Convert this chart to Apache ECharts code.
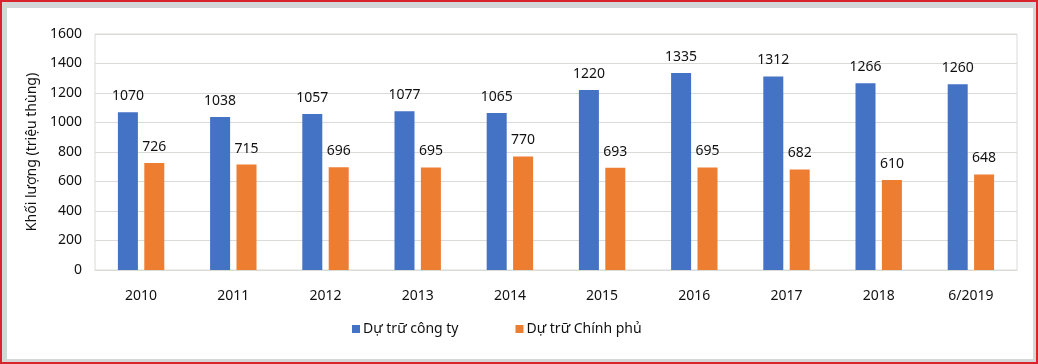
<!DOCTYPE html>
<html>
<head>
<meta charset="utf-8">
<script src="https://cdn.jsdelivr.net/npm/echarts@6/dist/echarts.min.js"></script>
<style>
html,body{margin:0;padding:0;background:#fff;}
#wrap{position:relative;width:1038px;height:364px;overflow:hidden;}
#chart{position:absolute;left:0;top:0;width:1038px;height:364px;}
#red{position:absolute;left:0;top:0;width:1038px;height:364px;box-sizing:border-box;border:2px solid #d9232d;pointer-events:none;}
#grey{position:absolute;left:2px;top:2px;width:1034px;height:360px;box-sizing:border-box;border-style:solid;border-color:#d4d7d7;border-width:6px 3px 3px 5px;pointer-events:none;}
</style>
</head>
<body>
<div id="wrap">
<div id="chart"></div>
<div id="grey"></div>
<div id="red"></div>
</div>
<script>
const categories = ['2010','2011','2012','2013','2014','2015','2016','2017','2018','6/2019'];
const companyReserve = [1070,1038,1057,1077,1065,1220,1335,1312,1266,1260];
const governmentReserve = [726,715,696,695,770,693,695,682,610,648];
const seriesNames = ['Dự trữ công ty','Dự trữ Chính phủ'];
const yAxisName = 'Khối lượng (triệu thùng)';

const FONT = '"Noto Sans", sans-serif';
const chart = echarts.init(document.getElementById('chart'), null, {renderer:'canvas'});
const labelStyle = {show:true, position:'top', distance:9, color:'#111', fontSize:14, fontFamily:FONT};
chart.setOption({
  animation:false,
  textStyle:{fontFamily:FONT},
  grid:{left:95, right:21, top:34, bottom:94, show:true, borderColor:'#d9dcd6', borderWidth:1},
  legend:{
    data:seriesNames, left:352, top:322, padding:0, icon:'rect', itemWidth:8, itemHeight:8, itemGap:57,
    textStyle:{fontSize:14, color:'#111', fontFamily:FONT, padding:[0,0,0,-2]}
  },
  xAxis:{
    type:'category', data:categories,
    axisLine:{show:true, lineStyle:{color:'#d9dcd6'}},
    axisTick:{show:false},
    axisLabel:{color:'#111', fontSize:14, margin:19, fontFamily:FONT}
  },
  yAxis:{
    type:'value', min:0, max:1600, interval:200,
    name:yAxisName, nameLocation:'middle', nameGap:50, nameRotate:90,
    nameTextStyle:{fontSize:14, color:'#111', fontFamily:FONT},
    axisLine:{show:false}, axisTick:{show:false},
    axisLabel:{color:'#111', fontSize:14, margin:13, fontFamily:FONT, formatter:function(v){return String(v);}},
    splitLine:{lineStyle:{color:'#d9dcd6'}}
  },
  series:[
    {name:seriesNames[0], type:'bar', data:companyReserve, barWidth:20, barGap:'32%', itemStyle:{color:'#4472c4'}, label:labelStyle},
    {name:seriesNames[1], type:'bar', data:governmentReserve, barWidth:20, itemStyle:{color:'#ed7d31'}, label:labelStyle}
  ]
});
</script>
</body>
</html>
